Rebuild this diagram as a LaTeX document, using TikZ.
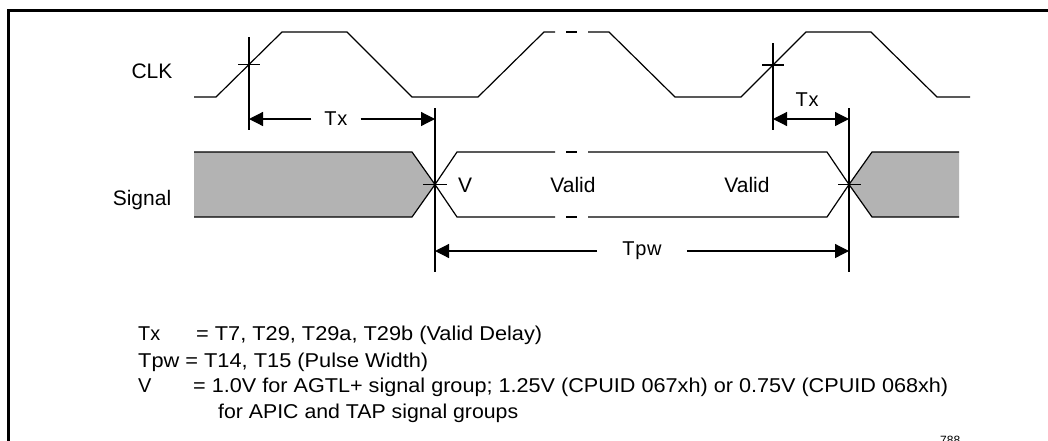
\documentclass[tikz,border=0pt]{standalone}
\usepackage{fontspec}
\usepackage{graphicx}
\setmainfont{Liberation Sans}
\usetikzlibrary{arrows.meta}
\definecolor{busgrey}{RGB}{179,179,179}
\newcommand{\notetext}[2]{\resizebox{#1pt}{\height}{#2}}
\begin{document}
\begin{tikzpicture}[x=1pt,y=-1pt,
  wave/.style={line width=1.2pt, line join=miter},
  dim/.style={line width=1.2pt},
  arr/.style={-{Triangle[length=14pt,width=14pt]}, line width=1.2pt},
  dblarr/.style={{Triangle[length=14pt,width=14pt]}-{Triangle[length=14pt,width=14pt]}, line width=1.2pt},
  lbl/.style={font=\fontsize{21}{25}\selectfont, inner sep=0pt},
  dimlbl/.style={font=\fontsize{20}{24}\selectfont\addfontfeature{LetterSpace=4}, inner ysep=0pt},
  note/.style={font=\fontsize{20}{24}\selectfont, inner sep=0pt, anchor=base west}]
\useasboundingbox (0,0) rectangle (1048,440);
% frame
\draw[line width=3pt] (8,441) -- (8,10) -- (1049,10);
% labels
\node[lbl] (clk) at (152,71) {CLK};
\node[lbl] (sig) at (142,200) {Signal};
% CLK waveform
\draw[wave] (194,97) -- (216,97) -- (282,32) -- (347,32) -- (412,97) -- (478,97) -- (544,32) -- (555,32);
\draw[wave] (566,32) -- (577,32);
\draw[wave] (588,32) -- (609,32) -- (675,97) -- (741,97) -- (806,32) -- (871,32) -- (937,97) -- (970,97);
% CLK markers
\draw[dim] (249,37) -- (249,130);
\draw[dim] (238,64.5) -- (260,64.5);
\draw[dim] (773,43) -- (773,130);
\draw[dim] (762,65) -- (784,65);
% Signal bus
\fill[busgrey] (194,152) -- (412,152) -- (435,184.5) -- (412,217) -- (194,217) -- cycle;
\draw[wave] (194,152) -- (412,152) -- (435,184.5) -- (412,217) -- (194,217);
\draw[wave] (555,152) -- (457,152) -- (435,184.5) -- (457,217) -- (555,217);
\draw[wave] (566,152) -- (577,152);
\draw[wave] (566,217) -- (577,217);
\draw[wave] (588,152) -- (827,152) -- (849,184.5) -- (827,217) -- (588,217);
\fill[busgrey] (959,152) -- (872,152) -- (849,184.5) -- (872,217) -- (959,217) -- cycle;
\draw[wave] (959,152) -- (872,152) -- (849,184.5) -- (872,217) -- (959,217);
% crossing ticks and reference verticals
\draw[dim] (423,184.5) -- (447,184.5);
\draw[dim] (838,184.5) -- (861,184.5);
\draw[dim] (435,108) -- (435,272);
\draw[dim] (849,108) -- (849,272);
\node[lbl, anchor=west] (v) at (458,185) {V};
\node[lbl] (valid1) at (573,185) {Valid};
\node[lbl] (valid2) at (747,185) {Valid};
% Tx (first)
\coordinate (txa) at (249,119);
\coordinate (txb) at (435,119);
\node[dimlbl, inner xsep=13pt] (tx1) at (336,119) {Tx};
\draw[arr] (tx1.west) -- (txa);
\draw[arr] (tx1.east) -- (txb);
% Tx (second)
\coordinate (txc) at (773,119);
\coordinate (txd) at (849,119);
\draw[dblarr] (txc) -- (txd);
\node[dimlbl] (tx2) at (807,100) {Tx};
% Tpw
\coordinate (tpa) at (435,251);
\coordinate (tpb) at (849,251);
\node[dimlbl, inner xsep=25pt] (tpw) at (642,251) {Tpw};
\draw[arr] (tpw.west) -- (tpa);
\draw[arr] (tpw.east) -- (tpb);
% notes
\node[note] (n1a) at (138,340) {\notetext{22}{Tx}};
\node[note] (n1b) at (196,340) {\notetext{346}{= T7, T29, T29a, T29b (Valid Delay)}};
\node[note] (n2) at (138,367) {\notetext{290}{Tpw = T14, T15 (Pulse Width)}};
\node[note] (n3a) at (138,392) {V};
\node[note] (n3b) at (193,392) {\notetext{755}{= 1.0V for AGTL+ signal group; 1.25V (CPUID 067xh) or 0.75V (CPUID 068xh)}};
\node[note] (n4) at (218,418) {\notetext{300}{for APIC and TAP signal groups}};
\node[font=\fontsize{12}{14}\selectfont, inner sep=0pt, anchor=north west] (fig) at (940,436) {788};
\end{tikzpicture}
\end{document}
